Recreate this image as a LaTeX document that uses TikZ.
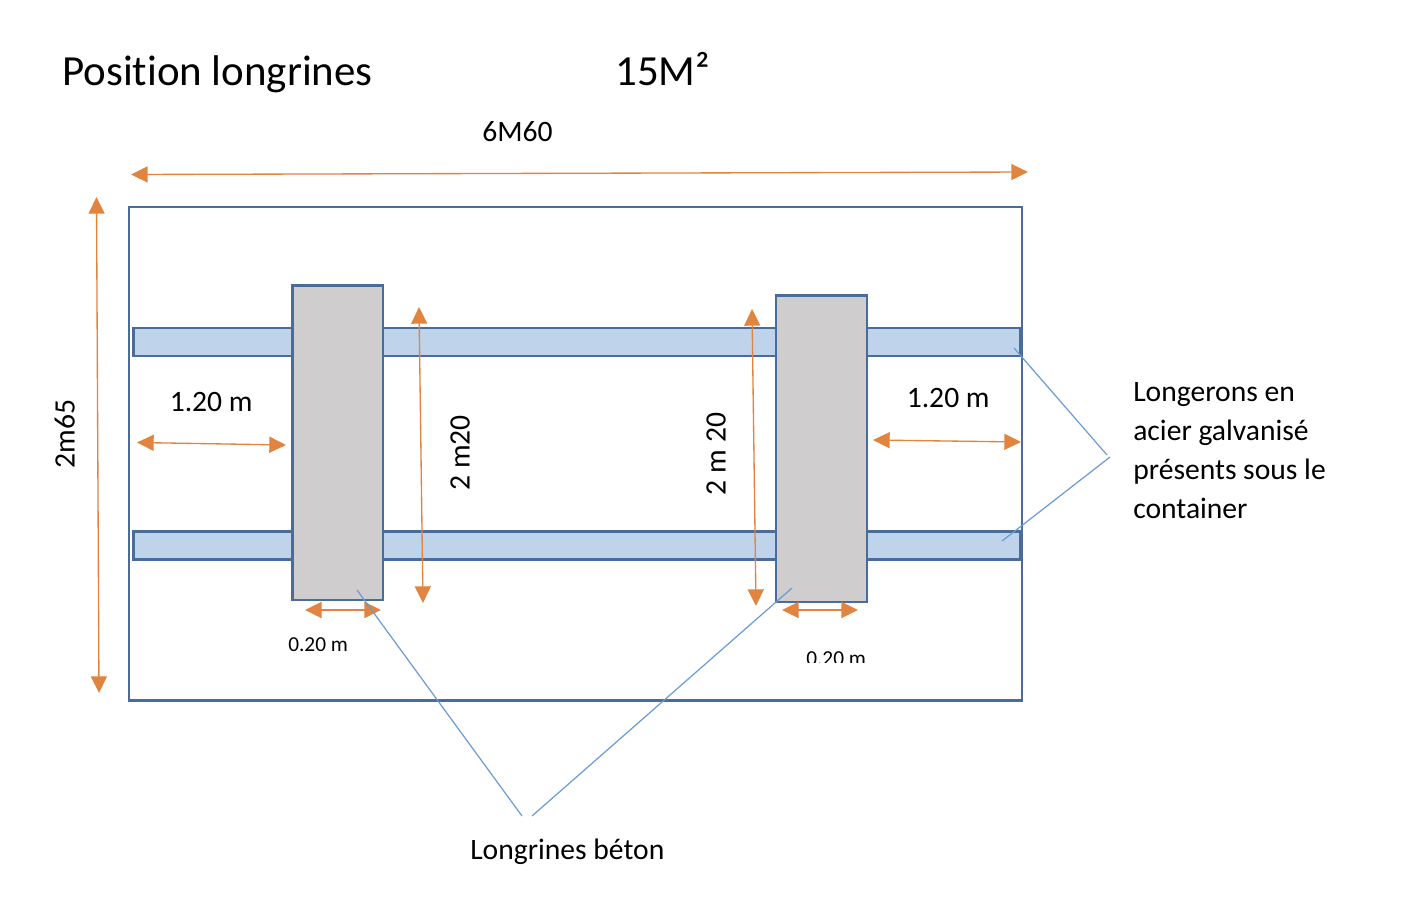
\documentclass[tikz,border=0pt]{standalone}
\usepackage{fontspec}
\setmainfont[Ligatures=NoCommon]{Carlito}
\usetikzlibrary{arrows.meta}
\definecolor{bordb}{HTML}{4A6C98}
\definecolor{fillb}{HTML}{BFD4EB}
\definecolor{grayb}{HTML}{CFCDCD}
\definecolor{orng}{HTML}{E0843F}
\definecolor{lnk}{HTML}{6A9BD3}
\tikzset{
 x=0.75pt,y=-0.75pt,
 frame/.style={draw=bordb,line width=2pt,fill=white},
 rail/.style={draw=bordb,line width=2.1pt,fill=fillb},
 block/.style={draw=bordb,line width=2.2pt,fill=grayb},
 dim/.style={draw=orng,line width=1pt,{Triangle[length=12.5pt,width=12pt,fill=orng]}-{Triangle[length=12.5pt,width=12pt,fill=orng]}},
 smalldim/.style={draw=orng,line width=1.3pt,{Triangle[length=12.5pt,width=12pt,fill=orng]}-{Triangle[length=12.5pt,width=12pt,fill=orng]}},
 lead/.style={draw=lnk,line width=0.9pt},
 lab/.style={inner sep=0pt,font=\fontsize{22.2}{26}\selectfont,text=black},
 tiny/.style={inner sep=0pt,font=\fontsize{16}{19}\selectfont,text=black},
 big/.style={inner sep=0pt,font=\fontsize{32.2}{36}\selectfont,text=black},
}
\begin{document}
\begin{tikzpicture}
\useasboundingbox (0,0) rectangle (1423,900);
\fill[white] (0,0) rectangle (1423,900);
\node[big,anchor=base west] (title) at (62,85) {Position longrines};
\node[big,anchor=base west] (area) at (615,85) {15M²};
\node[lab,anchor=base west] (w) at (482,141) {6M60};

\coordinate (wa) at (131,174.5); \coordinate (wb) at (1028,172);
\coordinate (ha) at (96.5,197); \coordinate (hb) at (99,693);
\draw[dim] (wa) -- (wb);
\draw[dim] (ha) -- (hb);

\draw[frame] (129,207) rectangle (1022,700.5);
\draw[rail] (133.5,328) rectangle (1020,356);
\draw[rail] (133.5,531.5) rectangle (1020,559.5);
\draw[block] (292.5,285.5) rectangle (383,600);
\draw[block] (776,295.5) rectangle (867,602);

\coordinate (d1a) at (137,442.5); \coordinate (d1b) at (286,445);
\coordinate (d2a) at (419,307); \coordinate (d2b) at (423,603);
\coordinate (d3a) at (752,309); \coordinate (d3b) at (756,606);
\coordinate (d4a) at (873,440); \coordinate (d4b) at (1021,442);
\coordinate (d5a) at (305,610); \coordinate (d5b) at (381,610);
\coordinate (d6a) at (782,610); \coordinate (d6b) at (858,610);
\draw[dim] (d1a) -- (d1b);
\draw[dim] (d2a) -- (d2b);
\draw[dim] (d3a) -- (d3b);
\draw[dim] (d4a) -- (d4b);
\draw[smalldim] (d5a) -- (d5b);
\draw[smalldim] (d6a) -- (d6b);

\coordinate (l1a) at (357,590); \coordinate (l1b) at (522,816);
\coordinate (l2a) at (792,588); \coordinate (l2b) at (532,816);
\coordinate (l3a) at (1014,348); \coordinate (l3b) at (1107,455);
\coordinate (l4a) at (1002,541); \coordinate (l4b) at (1110,457);
\draw[lead] (l1a) -- (l1b);
\draw[lead] (l2a) -- (l2b);
\draw[lead] (l3a) -- (l3b);
\draw[lead] (l4a) -- (l4b);

\node[lab,anchor=base west] (t1) at (169.5,411) {1.20 m};
\node[lab,anchor=base west] (t2) at (906.5,407) {1.20 m};
\node[lab,anchor=base,rotate=90] (t3) at (74.5,434) {2m65};
\node[lab,anchor=base,rotate=90] (t4) at (469.5,453) {2 m20};
\node[lab,anchor=base,rotate=90] (t5) at (725.5,454) {2 m 20};
\node[tiny,anchor=base west] (t6) at (288,651) {0.20 m};
\begin{scope}
\clip (790,640) rectangle (880,662);
\node[tiny,anchor=base west] (t7) at (806,665) {0.20 m};
\end{scope}
\node[lab,anchor=base west] (t8) at (1133,401) {Longerons en};
\node[lab,anchor=base west] (t9) at (1133,440) {acier galvanisé};
\node[lab,anchor=base west] (t10) at (1133,479) {présents sous le};
\node[lab,anchor=base west] (t11) at (1133,518) {container};
\node[lab,anchor=base west] (t12) at (470,859) {Longrines béton};
\end{tikzpicture}
\end{document}
